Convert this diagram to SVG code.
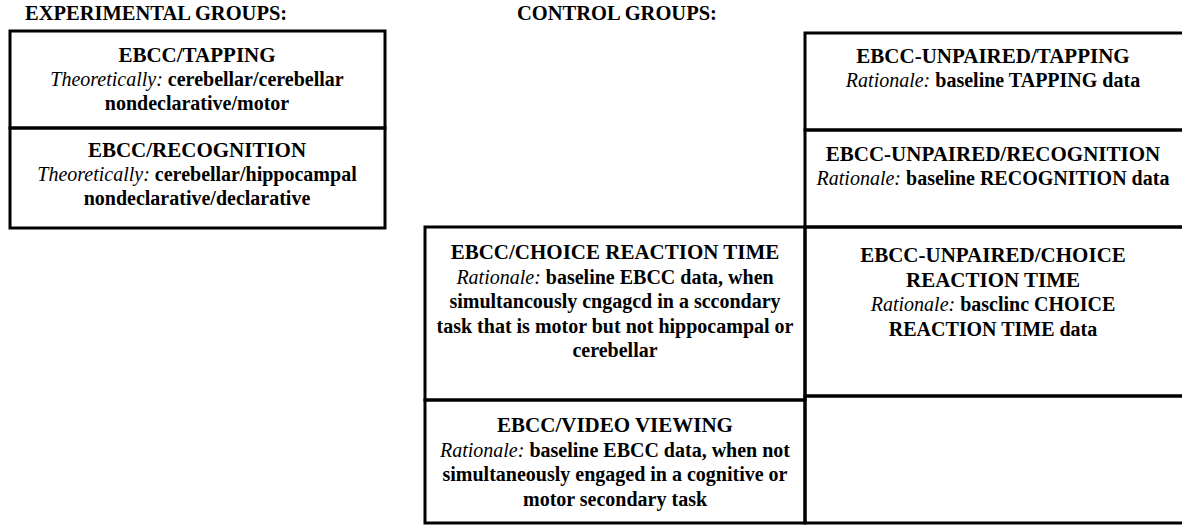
<svg xmlns="http://www.w3.org/2000/svg" width="1182" height="525" viewBox="0 0 1182 525">
<style>
text{font-family:"Liberation Serif","Times New Roman",serif;fill:#000;text-anchor:middle}
.hdr{font-size:20.5px;font-weight:bold;text-anchor:start}
.ttl{font-size:21px;font-weight:bold}
.bd{font-size:20px;font-weight:bold}
.it{font-style:italic;font-weight:normal}
.box{fill:none;stroke:#000;stroke-width:3}
</style>
<rect width="1182" height="525" fill="#fff"/>
<text class="hdr" x="25" y="20">EXPERIMENTAL GROUPS:</text>
<text class="hdr" x="517" y="20">CONTROL GROUPS:</text>

<g id="ebcc-tapping">
<rect class="box" x="10" y="31" width="375" height="97"/>
<text class="ttl" x="197" y="62">EBCC/TAPPING</text>
<text class="bd" x="197" y="86"><tspan class="it">Theoretically:</tspan> cerebellar/cerebellar</text>
<text class="bd" x="197" y="110">nondeclarative/motor</text>
</g>
<g id="ebcc-recognition">
<rect class="box" x="10" y="128" width="375" height="100"/>
<text class="ttl" x="197" y="157">EBCC/RECOGNITION</text>
<text class="bd" x="197" y="181"><tspan class="it">Theoretically:</tspan> cerebellar/hippocampal</text>
<text class="bd" x="197" y="205">nondeclarative/declarative</text>
</g>

<g id="ebcc-choice-reaction-time">
<rect class="box" x="425" y="227" width="380" height="173"/>
<text class="ttl" x="615" y="259">EBCC/CHOICE REACTION TIME</text>
<text class="bd" x="615" y="284"><tspan class="it">Rationale:</tspan> baseline EBCC data, when</text>
<text class="bd" x="615" y="308">simultancously cngagcd in a sccondary</text>
<text class="bd" x="615" y="333">task that is motor but not hippocampal or</text>
<text class="bd" x="615" y="357">cerebellar</text>
</g>
<g id="ebcc-video-viewing">
<rect class="box" x="425" y="400" width="380" height="123"/>
<text class="ttl" x="615" y="432">EBCC/VIDEO VIEWING</text>
<text class="bd" x="615" y="457"><tspan class="it">Rationale:</tspan> baseline EBCC data, when not</text>
<text class="bd" x="615" y="481">simultaneously engaged in a cognitive or</text>
<text class="bd" x="615" y="506">motor secondary task</text>
</g>

<g id="unpaired-tapping">
<rect class="box" x="805" y="33" width="390" height="97"/>
<text class="ttl" x="993" y="63">EBCC-UNPAIRED/TAPPING</text>
<text class="bd" x="993" y="87"><tspan class="it">Rationale:</tspan> baseline TAPPING data</text>
</g>
<g id="unpaired-recognition">
<rect class="box" x="805" y="130" width="390" height="97"/>
<text class="ttl" x="993" y="161">EBCC-UNPAIRED/RECOGNITION</text>
<text class="bd" x="993" y="185"><tspan class="it">Rationale:</tspan> baseline RECOGNITION data</text>
</g>
<g id="unpaired-choice-reaction-time">
<rect class="box" x="805" y="227" width="390" height="169"/>
<text class="ttl" x="993" y="262">EBCC-UNPAIRED/CHOICE</text>
<text class="ttl" x="993" y="287">REACTION TIME</text>
<text class="bd" x="993" y="311"><tspan class="it">Rationale:</tspan> basclinc CHOICE</text>
<text class="bd" x="993" y="336">REACTION TIME data</text>
</g>
<g id="unpaired-empty">
<rect class="box" x="805" y="396" width="390" height="127"/>
</g>
<g id="connectors"></g>
</svg>
